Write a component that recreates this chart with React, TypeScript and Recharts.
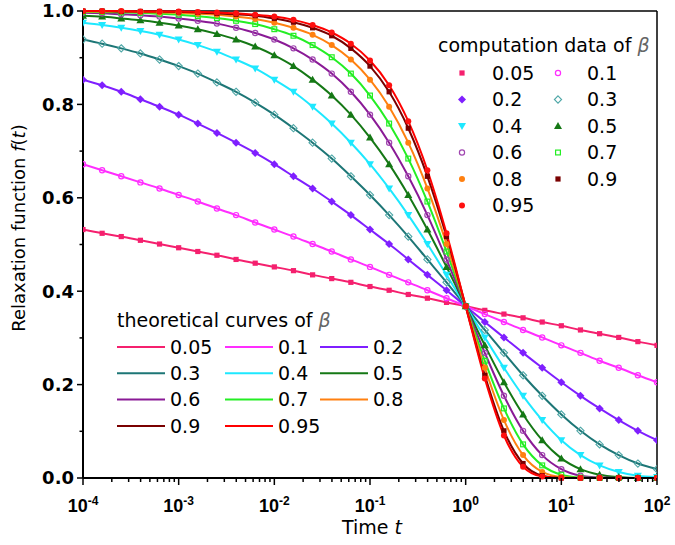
import { LineChart, Line, XAxis, YAxis, ReferenceLine } from "recharts";

// sample times as log10(t), 0.2 decade apart
const logTime = [
  -4, -3.8, -3.6, -3.4, -3.2, -3, -2.8, -2.6, -2.4, -2.2, -2, -1.8, -1.6, -1.4, -1.2, -1,
  -0.8, -0.6, -0.4, -0.2, 0, 0.2, 0.4, 0.6, 0.8, 1, 1.2, 1.4, 1.6, 1.8, 2,
];

// f(t), one array per beta
const f005 = [0.532, 0.524, 0.517, 0.509, 0.501, 0.493, 0.485, 0.477, 0.468, 0.46, 0.452, 0.444, 0.435, 0.427, 0.419, 0.41, 0.402, 0.393, 0.385, 0.376, 0.368, 0.359, 0.351, 0.343, 0.334, 0.326, 0.317, 0.309, 0.301, 0.292, 0.284];
const f01 = [0.672, 0.659, 0.646, 0.633, 0.62, 0.606, 0.592, 0.577, 0.563, 0.547, 0.532, 0.517, 0.501, 0.485, 0.468, 0.452, 0.435, 0.419, 0.402, 0.385, 0.368, 0.351, 0.334, 0.317, 0.301, 0.284, 0.268, 0.251, 0.236, 0.22, 0.205];
const f02 = [0.853, 0.841, 0.827, 0.811, 0.795, 0.778, 0.759, 0.739, 0.718, 0.696, 0.672, 0.646, 0.62, 0.592, 0.563, 0.532, 0.501, 0.468, 0.435, 0.402, 0.368, 0.334, 0.301, 0.268, 0.236, 0.205, 0.176, 0.149, 0.124, 0.101, 0.081];
const f03 = [0.939, 0.93, 0.92, 0.909, 0.896, 0.882, 0.866, 0.847, 0.827, 0.804, 0.778, 0.749, 0.718, 0.684, 0.646, 0.606, 0.563, 0.517, 0.468, 0.419, 0.368, 0.317, 0.268, 0.22, 0.176, 0.136, 0.101, 0.072, 0.049, 0.031, 0.019];
const f04 = [0.975, 0.97, 0.964, 0.957, 0.949, 0.939, 0.927, 0.913, 0.896, 0.877, 0.853, 0.827, 0.795, 0.759, 0.718, 0.672, 0.62, 0.563, 0.501, 0.435, 0.368, 0.301, 0.236, 0.176, 0.124, 0.081, 0.049, 0.027, 0.013, 0.005, 0.002];
const f05 = [0.99, 0.988, 0.984, 0.98, 0.975, 0.969, 0.961, 0.951, 0.939, 0.924, 0.905, 0.882, 0.853, 0.819, 0.778, 0.729, 0.672, 0.606, 0.532, 0.452, 0.368, 0.284, 0.205, 0.136, 0.081, 0.042, 0.019, 0.007, 0.002, 0, 0];
const f06 = [0.996, 0.995, 0.993, 0.991, 0.988, 0.984, 0.979, 0.973, 0.964, 0.953, 0.939, 0.92, 0.896, 0.866, 0.827, 0.778, 0.718, 0.646, 0.563, 0.468, 0.368, 0.268, 0.176, 0.101, 0.049, 0.019, 0.005, 0.001, 0, 0, 0];
const f07 = [0.998, 0.998, 0.997, 0.996, 0.994, 0.992, 0.989, 0.985, 0.979, 0.972, 0.961, 0.947, 0.927, 0.901, 0.866, 0.819, 0.759, 0.684, 0.592, 0.485, 0.368, 0.251, 0.149, 0.072, 0.027, 0.007, 0.001, 0, 0, 0, 0];
const f08 = [0.999, 0.999, 0.999, 0.998, 0.997, 0.996, 0.994, 0.992, 0.988, 0.983, 0.975, 0.964, 0.949, 0.927, 0.896, 0.853, 0.795, 0.718, 0.62, 0.501, 0.368, 0.236, 0.124, 0.049, 0.013, 0.002, 0, 0, 0, 0, 0];
const f09 = [1, 1, 0.999, 0.999, 0.999, 0.998, 0.997, 0.995, 0.993, 0.99, 0.984, 0.976, 0.964, 0.947, 0.92, 0.882, 0.827, 0.749, 0.646, 0.517, 0.368, 0.22, 0.101, 0.031, 0.005, 0, 0, 0, 0, 0, 0];
const f095 = [1, 1, 1, 0.999, 0.999, 0.999, 0.998, 0.997, 0.995, 0.992, 0.988, 0.981, 0.97, 0.954, 0.93, 0.894, 0.841, 0.764, 0.659, 0.524, 0.368, 0.213, 0.091, 0.024, 0.003, 0, 0, 0, 0, 0, 0];

const yTicks = [0, 0.1, 0.2, 0.3, 0.4, 0.5, 0.6, 0.7, 0.8, 0.9, 1];

type Shape = "square" | "openCircle" | "diamond" | "openDiamond" | "down" | "up" | "openSquare" | "circle";

const series: { key: string; label: string; values: number[]; line: string; mark: string; shape: Shape }[] = [
  { key: "b005", label: "0.05", values: f005, line: "#f5206e", mark: "#f5206e", shape: "square" },
  { key: "b01", label: "0.1", values: f01, line: "#ff2eff", mark: "#ff2eff", shape: "openCircle" },
  { key: "b02", label: "0.2", values: f02, line: "#7f1fff", mark: "#7f1fff", shape: "diamond" },
  { key: "b03", label: "0.3", values: f03, line: "#1d7676", mark: "#4ea7a7", shape: "openDiamond" },
  { key: "b04", label: "0.4", values: f04, line: "#1ee8ff", mark: "#1ee8ff", shape: "down" },
  { key: "b05", label: "0.5", values: f05, line: "#157815", mark: "#157815", shape: "up" },
  { key: "b06", label: "0.6", values: f06, line: "#8a1a96", mark: "#a046b0", shape: "openCircle" },
  { key: "b07", label: "0.7", values: f07, line: "#24ee24", mark: "#24ee24", shape: "openSquare" },
  { key: "b08", label: "0.8", values: f08, line: "#ff8010", mark: "#ff8010", shape: "circle" },
  { key: "b09", label: "0.9", values: f09, line: "#7a0000", mark: "#7a0000", shape: "square" },
  { key: "b095", label: "0.95", values: f095, line: "#ff0000", mark: "#ff1010", shape: "circle" },
];

const rows = logTime.map((k, i) => {
  const r: Record<string, number> = { t: Math.pow(10, k) };
  series.forEach((s) => (r[s.key] = s.values[i]));
  return r;
});

const xTicks: number[] = [];
for (let d = -4; d < 2; d++) for (let m = 1; m <= 9; m++) xTicks.push(m * Math.pow(10, d));
xTicks.push(100);

const TEXT_FONT = "'DejaVu Sans', sans-serif";
const TICK_FONT = "Arial, 'Liberation Sans', sans-serif";

function Marker({ shape, color, cx, cy }: { shape: Shape; color: string; cx: number; cy: number }) {
  switch (shape) {
    case "square":
      return <rect x={cx - 2.6} y={cy - 2.6} width={5.2} height={5.2} fill={color} />;
    case "openSquare":
      return <rect x={cx - 2.4} y={cy - 2.4} width={4.8} height={4.8} fill="none" stroke={color} strokeWidth={1.2} />;
    case "diamond":
      return <polygon points={`${cx},${cy - 4} ${cx + 4},${cy} ${cx},${cy + 4} ${cx - 4},${cy}`} fill={color} />;
    case "openDiamond":
      return <polygon points={`${cx},${cy - 3.6} ${cx + 3.6},${cy} ${cx},${cy + 3.6} ${cx - 3.6},${cy}`} fill="none" stroke={color} strokeWidth={1.1} />;
    case "down":
      return <polygon points={`${cx - 4},${cy - 3} ${cx + 4},${cy - 3} ${cx},${cy + 4}`} fill={color} />;
    case "up":
      return <polygon points={`${cx - 4},${cy + 3} ${cx + 4},${cy + 3} ${cx},${cy - 4}`} fill={color} />;
    case "openCircle":
      return <circle cx={cx} cy={cy} r={2.6} fill="none" stroke={color} strokeWidth={1.2} />;
    default:
      return <circle cx={cx} cy={cy} r={3} fill={color} />;
  }
}

function isDecade(v: number) {
  const l = Math.log10(v);
  return Math.abs(l - Math.round(l)) < 1e-6;
}

function XTick(props: any) {
  const { x, y, payload } = props;
  const v = payload.value as number;
  const major = isDecade(v);
  return (
    <g>
      <line x1={x} x2={x} y1={y} y2={y + (major ? 7 : 4)} stroke="#000" strokeWidth={1.5} />
      {major && (
        <text x={x} y={y + 34} textAnchor="middle" fontFamily={TICK_FONT} fontWeight="bold" fontSize={18} fill="#000">
          <tspan>10</tspan>
          <tspan dy={-7} fontSize={12}>{String(Math.round(Math.log10(v)))}</tspan>
        </text>
      )}
    </g>
  );
}

function YTick(props: any) {
  const { x, y, payload } = props;
  const v = payload.value as number;
  const major = Math.round(v * 10) % 2 === 0;
  return (
    <g>
      <line x1={x} x2={x - (major ? 6 : 3.5)} y1={y} y2={y} stroke="#000" strokeWidth={1.5} />
      {major && (
        <text x={x - 9} y={y} dy="0.36em" textAnchor="end" fontFamily={TEXT_FONT} fontWeight="bold" fontSize={18} fill="#000">
          {v.toFixed(1)}
        </text>
      )}
    </g>
  );
}

// legend layouts (page pixels)
const dataLegendCols = [
  { mx: 462, tx: 492 },
  { mx: 558, tx: 587 },
];
const curveLegendCols = [
  { x1: 117, x2: 165, tx: 170 },
  { x1: 225, x2: 273, tx: 278 },
  { x1: 320, x2: 368, tx: 373 },
];

function Overlay() {
  return (
    <svg width={675} height={545} style={{ position: "absolute", left: 0, top: 0, pointerEvents: "none" }}>
      <g fontFamily={TEXT_FONT} fill="#000">
        <text transform="translate(25,228) rotate(-90)" textAnchor="middle" fontSize={18}>
          Relaxation function <tspan fontStyle="italic">f</tspan>(<tspan fontStyle="italic">t</tspan>)
        </text>
        <text x={372} y={534} textAnchor="middle" fontSize={19}>
          Time <tspan fontStyle="italic">t</tspan>
        </text>

        <text x={438} y={52} fontSize={19}>
          computation data of <tspan fontStyle="italic" fill="#666">β</tspan>
        </text>
        {series.map((s, i) => {
          const col = dataLegendCols[i % 2];
          const cy = 73 + Math.floor(i / 2) * 26.5;
          return (
            <g key={s.key}>
              <Marker shape={s.shape} color={s.mark} cx={col.mx} cy={cy} />
              <text x={col.tx} y={cy} dy="0.36em" fontSize={19}>
                {s.label}
              </text>
            </g>
          );
        })}

        <text x={117} y={327} fontSize={19}>
          theoretical curves of <tspan fontStyle="italic" fill="#666">β</tspan>
        </text>
        {series.map((s, i) => {
          const col = curveLegendCols[i % 3];
          const cy = 347 + Math.floor(i / 3) * 26.3;
          return (
            <g key={s.key}>
              <line x1={col.x1} x2={col.x2} y1={cy} y2={cy} stroke={s.line} strokeWidth={2} />
              <text x={col.tx} y={cy} dy="0.36em" fontSize={19}>
                {s.label}
              </text>
            </g>
          );
        })}
      </g>
    </svg>
  );
}

export default function App() {
  return (
    <div style={{ position: "absolute", left: 0, top: 0, width: 675, height: 545, overflow: "hidden" }}>
      <LineChart width={675} height={545} data={rows} margin={{ top: 11, right: 18, bottom: 0, left: 0 }}>
        <XAxis
          dataKey="t"
          type="number"
          scale="log"
          domain={[0.0001, 100]}
          allowDataOverflow
          ticks={xTicks}
          interval={0}
          height={67}
          tickSize={0}
          tickMargin={0}
          tickLine={false}
          axisLine={{ stroke: "#000", strokeWidth: 2 }}
          tick={(p: any) => <XTick {...p} />}
        />
        <YAxis
          type="number"
          domain={[0, 1]}
          ticks={yTicks}
          interval={0}
          width={83}
          tickSize={0}
          tickMargin={0}
          tickLine={false}
          axisLine={{ stroke: "#000", strokeWidth: 2 }}
          tick={(p: any) => <YTick {...p} />}
        />
        <ReferenceLine y={1} stroke="#000" strokeWidth={1.5} />
        <ReferenceLine x={100} stroke="#000" strokeWidth={1.5} />
        {series.map((s) => (
          <Line
            key={`m-${s.key}`}
            dataKey={s.key}
            type="linear"
            stroke="none"
            isAnimationActive={false}
            activeDot={false}
            legendType="none"
            dot={(p: any) => <Marker key={`m-${s.key}-${p.index}`} shape={s.shape} color={s.mark} cx={p.cx} cy={p.cy} />}
          />
        ))}
        {series.map((s) => (
          <Line
            key={`l-${s.key}`}
            dataKey={s.key}
            type="monotone"
            stroke={s.line}
            strokeWidth={2}
            dot={false}
            activeDot={false}
            isAnimationActive={false}
            legendType="none"
          />
        ))}
      </LineChart>
      <Overlay />
    </div>
  );
}
